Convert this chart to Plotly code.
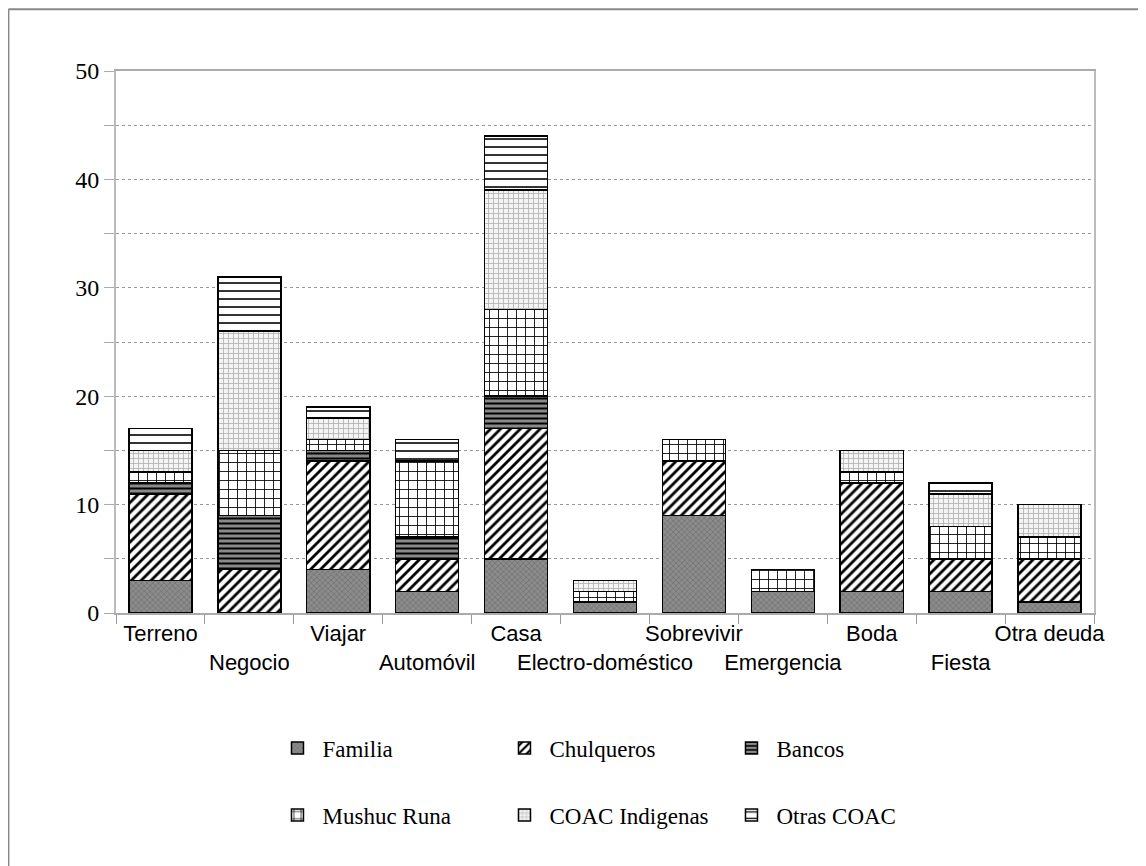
import plotly.graph_objects as go

categories = ["Terreno", "Negocio", "Viajar", "Automóvil", "Casa", "Electro-doméstico",
              "Sobrevivir", "Emergencia", "Boda", "Fiesta", "Otra deuda"]

familia      = [3, 0, 4, 2, 5, 1, 9, 2, 2, 2, 1]
chulqueros   = [8, 4, 10, 3, 12, 0, 5, 0, 10, 3, 4]
bancos       = [1, 5, 1, 2, 3, 0, 0, 0, 0, 0, 0]
mushuc_runa  = [1, 6, 1, 7, 8, 1, 2, 2, 1, 3, 2]
coac_indig   = [2, 11, 2, 0, 11, 1, 0, 0, 2, 3, 3]
otras_coac   = [2, 5, 1, 2, 5, 0, 0, 0, 0, 1, 0]

series_names = ["Familia", "Chulqueros", "Bancos", "Mushuc Runa", "COAC Indigenas", "Otras COAC"]
series_values = [familia, chulqueros, bancos, mushuc_runa, coac_indig, otras_coac]

patterns = [
    dict(shape="x", fgcolor="#5a5a5a", bgcolor="#8c8c8c", size=4, solidity=0.25, fgopacity=0.8),
    dict(shape="/", fgcolor="#000000", bgcolor="#ffffff", size=7, solidity=0.4, fgopacity=1),
    dict(shape="-", fgcolor="#000000", bgcolor="#8a8a8a", size=5, solidity=0.4, fgopacity=1),
    dict(shape="+", fgcolor="#000000", bgcolor="#ffffff", size=9, solidity=0.18, fgopacity=1),
    dict(shape="+", fgcolor="#b0b0b0", bgcolor="#f4f4f4", size=5, solidity=0.3, fgopacity=1),
    dict(shape="-", fgcolor="#000000", bgcolor="#ffffff", size=8, solidity=0.2, fgopacity=1),
]
legend_ids = ["legend", "legend", "legend", "legend2", "legend2", "legend2"]

# alternate tick labels on two rows
ticktext = [c if i % 2 == 0 else "<br>" + c for i, c in enumerate(categories)]

fig = go.Figure()
for name, vals, pat, lg in zip(series_names, series_values, patterns, legend_ids):
    fig.add_trace(go.Bar(
        x=categories, y=vals, name=name, legend=lg,
        width=0.71,
        marker=dict(color=pat["bgcolor"], pattern=pat,
                    line=dict(color="#000000", width=1.5)),
    ))

serif = "Liberation Serif, Times New Roman, serif"
sans = "Liberation Sans, Arial, sans-serif"

leg_common = dict(orientation="h", xanchor="left", yanchor="middle",
                  entrywidth=172, entrywidthmode="pixels", traceorder="normal",
                  font=dict(family=serif, size=23, color="black"), itemwidth=40)

fig.update_layout(
    barmode="stack",
    width=1146, height=866,
    margin=dict(l=108, r=60, t=63, b=261, autoexpand=False),
    plot_bgcolor="white", paper_bgcolor="white",
    showlegend=True,
    legend=dict(x=0.16, y=-0.249, **leg_common),
    legend2=dict(x=0.16, y=-0.373, **leg_common),
    xaxis=dict(
        type="category", tickmode="array", tickvals=categories, ticktext=ticktext,
        tickangle=0, automargin=False,
        tickson="boundaries", ticks="outside", ticklen=9, tickcolor="#999999",
        showline=True, linecolor="#aaaaaa", linewidth=2, mirror=True,
        tickfont=dict(family=sans, size=22, color="black"),
        showgrid=False, range=[-0.5, 10.5],
    ),
    yaxis=dict(
        range=[0, 50], dtick=10, ticks="outside", ticklen=10, tickcolor="#aaaaaa",
        automargin=False,
        showline=True, linecolor="#bbbbbb", linewidth=2, mirror=True,
        showgrid=True, gridcolor="#999999", griddash="dot", gridwidth=1,
        tickfont=dict(family=serif, size=24, color="black"),
        zeroline=False,
        minor=dict(dtick=5, showgrid=True, gridcolor="#999999", griddash="dot",
                   ticks="outside", ticklen=10, tickcolor="#aaaaaa"),
    ),
    shapes=[
        dict(type="line", xref="paper", yref="paper", x0=-0.110, x1=-0.110, y0=-0.5, y1=1.114,
             line=dict(color="#888888", width=2)),
        dict(type="line", xref="paper", yref="paper", x0=-0.110, x1=1.08, y0=1.114, y1=1.114,
             line=dict(color="#888888", width=2)),
    ],
)

fig.write_html("out.html")
